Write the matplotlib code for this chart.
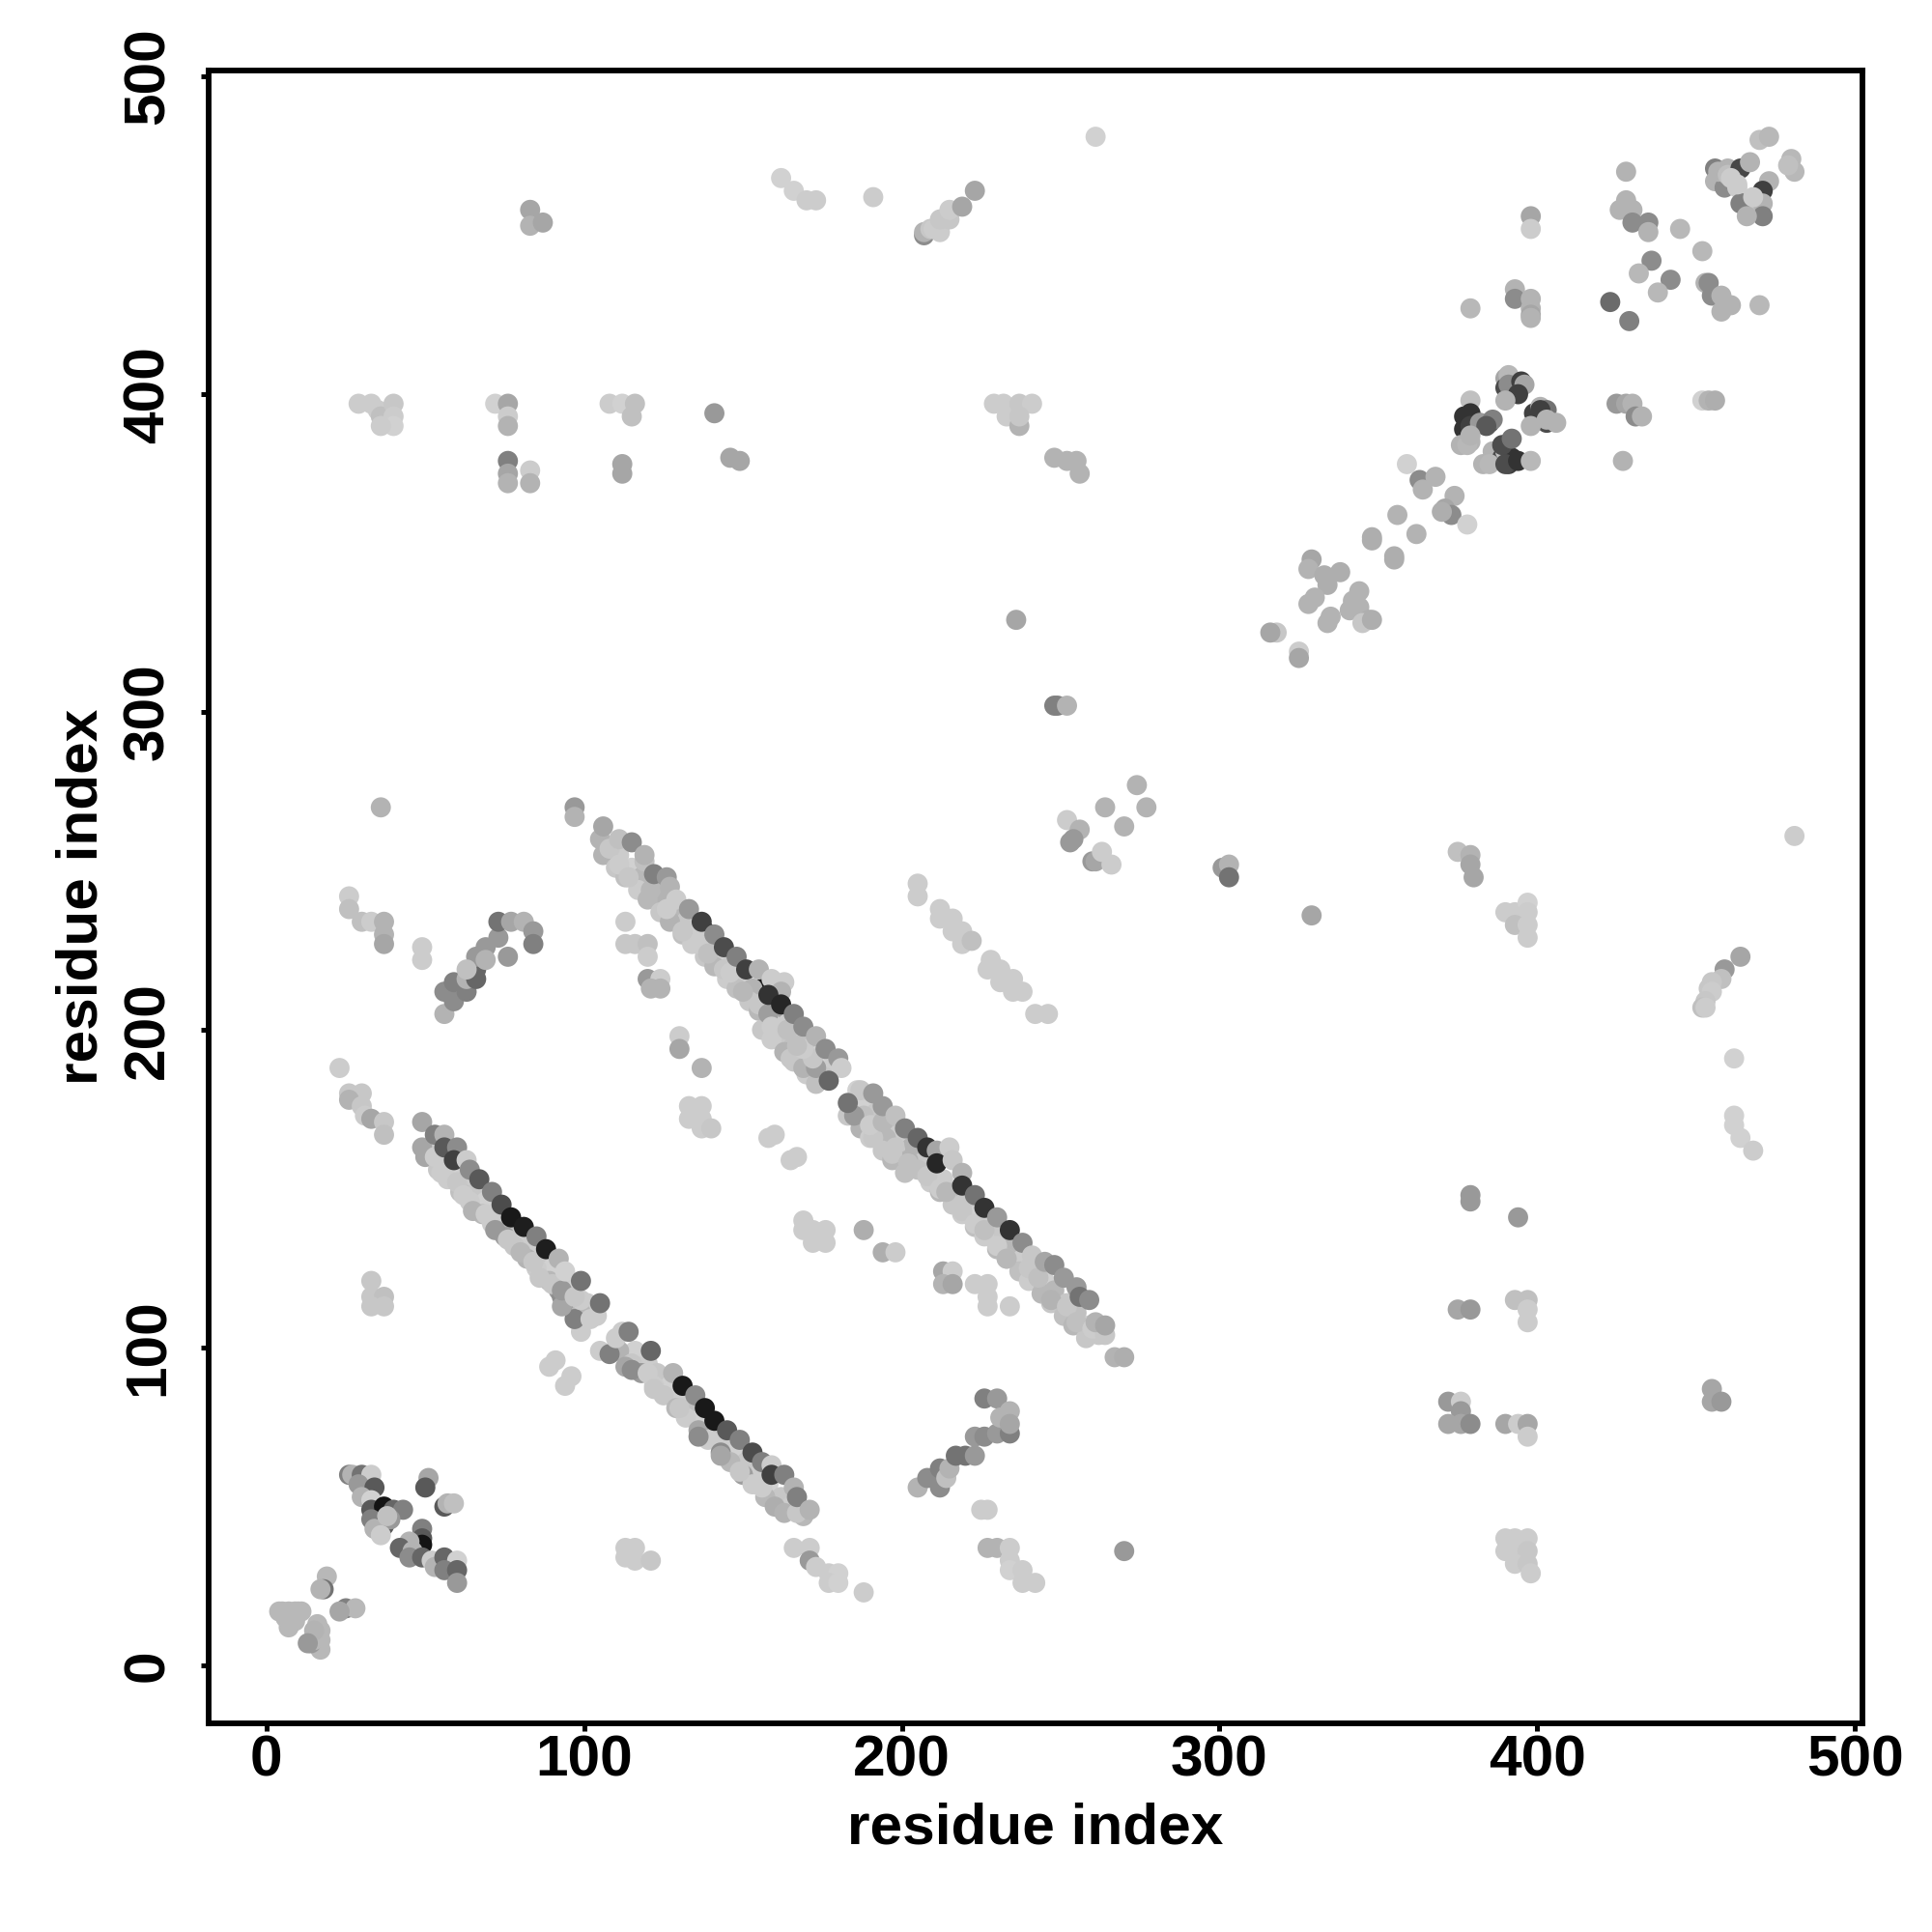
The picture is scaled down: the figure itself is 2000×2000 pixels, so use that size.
import matplotlib
matplotlib.use('Agg')
import matplotlib.pyplot as plt

plt.rcParams['font.family'] = ['Liberation Sans', 'DejaVu Sans']
plt.rcParams['font.weight'] = 'bold'

# ---- dark contacts that only peek out under the lighter ones
dark_x = [54,55,61,89,125,132,147,155,156,209,138]
dark_y = [163,158,156,127,90,83,67,62,213,159,231]
dark_g = [.05,.1,.1,.1,.1,.1,.1,.1,.1,.1,.1]

# ---- first strand pair, inner rows (drawn first, they sit below the edge)
b1a_x = [52,55,59,62,66,69,73,76,80,83,87,90,94,97,101,116,120,123,127,130,134,137,141,144,148,151,155,158,162,165,169]
b1a_y = [163,160,156,153,149,146,142,139,135,132,128,125,121,118,114,99,95,92,88,85,81,78,74,71,67,64,60,57,53,50,47]
b1a_g = [.8,.78,.82,.8,.78,.82,.8,.75,.82,.8,.78,.82,.8,.82,.8,.82,.8,.78,.82,.8,.75,.82,.78,.8,.82,.78,.8,.82,.78,.8,.72]
b1b_x = [50,54,57,61,64,68,71,75,78,82,85,89,92,96,99,111,115,118,122,125,129,132,136,139,143,146,150,153,157,160]
b1b_y = [160,156,153,149,146,142,139,135,132,128,125,121,118,114,111,99,95,92,88,85,81,78,74,71,67,64,60,57,53,50]
b1b_g = [.65,.78,.8,.75,.8,.72,.8,.62,.78,.7,.8,.72,.6,.55,.72,.7,.78,.6,.8,.78,.72,.8,.65,.8,.55,.72,.62,.8,.72,.68]
# extra ones around the gap and along the lower side
b1e_x = [99,97,93,93,102,104,99,105,108,110,112,113,115,120,122,130,136,143,149,156,163,167,49,53,55,60,62,65,69,72,76,80,84,86,90,93,97]
b1e_y = [105,109,116,113,109,110,115,99,98,103,105,94,93,92,87,81,72,66,61,56,48,48,163,160,155,152,148,143,142,137,134,130,127,122,120,118,116]
b1e_g = [.8,.5,.55,.65,.8,.8,.8,.8,.5,.8,.8,.65,.55,.8,.78,.78,.55,.65,.78,.8,.7,.78,.65,.8,.8,.78,.8,.7,.8,.6,.78,.72,.78,.78,.78,.6,.78]
# top edge of the band
b1c_x = [49,53,56,56,60,59,63,64,67,71,74,77,81,85,88,92,94,99,105,114,121,128,131,135,138,141,145,149,153,156,159,159,163,166,167,171]
b1c_y = [171,167,167,163,163,159,159,156,153,149,145,141,138,135,131,128,124,121,114,105,99,92,88,85,81,77,74,71,67,64,63,60,60,56,53,49]
b1c_g = [.65,.5,.7,.35,.55,.25,.8,.55,.35,.5,.3,.1,.12,.5,.12,.7,.82,.45,.45,.5,.4,.7,.1,.55,.1,.1,.35,.5,.3,.5,.8,.25,.5,.7,.5,.7]

# ---- second strand pair, inner rows
b2a_x = [108,111,115,118,122,125,129,132,136,139,143,146,150,153,157,160,164,167,171,174,178,189,192,196,199,203,206,210,213,217,220,224,227,231,234,238,241,245,248,252,255,259,262]
b2a_y = [258,255,251,248,244,241,237,234,230,227,223,220,216,213,209,206,202,199,195,192,188,177,174,170,167,163,160,156,153,149,146,142,139,135,132,128,125,121,118,114,111,107,104]
b2a_g = [.78,.8,.82,.72,.78,.7,.72,.78,.8,.75,.82,.78,.8,.7,.78,.62,.8,.78,.75,.82,.8,.82,.78,.75,.8,.7,.78,.72,.8,.7,.78,.82,.8,.78,.72,.8,.75,.82,.72,.78,.75,.8,.78]
b2b_x = [106,110,113,117,120,124,127,131,134,138,141,145,148,152,155,159,162,166,169,173,176,188,191,195,198,202,205,209,212,216,219,223,226,230,233,237,240,244,247,251,254,258]
b2b_y = [255,251,248,244,241,237,234,230,227,223,220,216,213,209,206,202,199,195,192,188,185,173,170,166,163,159,156,152,149,145,142,138,135,131,128,124,121,117,114,110,107,103]
b2b_g = [.7,.78,.75,.8,.72,.78,.7,.75,.8,.78,.72,.8,.75,.78,.72,.8,.78,.75,.8,.72,.78,.75,.8,.72,.78,.7,.75,.8,.72,.78,.8,.75,.8,.72,.78,.75,.8,.72,.78,.75,.72,.78]
b2c_x = [156,159,163,166,170,173,183,187,190,194,197,201]
b2c_y = [200,197,193,190,186,183,173,169,166,162,159,155]
b2c_g = [.78,.8,.7,.78,.8,.75,.78,.7,.8,.78,.72,.75]
b2e_x = [105,108,111,111,114,119,121,126,131,136,139,144,146,150,155,158,159,164,165,169,173,172,169,167,186,185,191,190,194,197,202,204,208,212,214,219,223,226,230,233,240,243,247,252,255,260,264]
b2e_y = [260,257,260,252,248,253,244,238,231,227,224,219,218,212,208,205,201,200,191,188,188,191,194,195,181,173,166,170,171,161,158,164,154,150,149,143,139,137,132,128,125,122,115,113,108,106,104]
b2e_g = [.7,.78,.75,.8,.78,.75,.72,.8,.78,.8,.75,.78,.8,.72,.78,.62,.8,.75,.78,.7,.62,.78,.8,.75,.82,.6,.78,.8,.72,.78,.75,.7,.78,.8,.72,.78,.8,.75,.8,.72,.78,.75,.7,.78,.75,.8,.78]
# top edge of the band
b2d_x = [106,115,119,122,126,127,129,133,137,141,144,148,151,155,159,163,162,158,162,166,169,173,176,180,181,177,187,191,183,194,198,201,205,208,211,215,211,216,219,219,223,226,230,234,238,241,245,248,251,255,256,259,261,264]
b2d_y = [264,259,255,249,248,245,241,238,234,230,226,223,219,219,216,215,212,211,208,205,201,198,194,191,188,184,181,180,177,176,173,169,166,163,162,163,158,159,155,151,148,144,141,137,133,129,127,126,122,119,116,115,108,107]
b2d_g = [.65,.55,.7,.5,.6,.7,.8,.6,.25,.55,.3,.5,.25,.7,.8,.8,.7,.2,.15,.5,.55,.7,.55,.6,.8,.4,.78,.6,.45,.6,.75,.5,.4,.2,.65,.8,.15,.78,.7,.2,.45,.2,.6,.2,.55,.78,.65,.55,.6,.6,.45,.55,.7,.65]

# ---- small clusters, lower left
low_x = [19,18,17,25,28,23,4,7,10,7,8,17,17,17,14,15,5,6,8,9,11,7,9,6,16,15,13,26,27,30,33,29,34,30,33,33,37,40,43,33,37,39,34,36,38,51,50,56,57,59,49,49,49,43,45,42,46,45,49,52,53,56,60,56,60,60]
low_y = [28,24,24,18,18,17,17,17,17,14,15,11,8,5,7,8,17,16,16,17,17,12,14,15,13,11,7,60,60,60,60,57,56,53,52,49,50,49,49,46,44,46,43,41,47,59,56,50,51,51,43,40,38,37,39,37,36,34,34,33,31,34,33,30,30,26]
low_g = [.72,.45,.7,.5,.72,.65,.72,.72,.72,.6,.72,.72,.72,.72,.6,.72,.72,.72,.72,.72,.72,.72,.72,.72,.72,.7,.6,.5,.7,.45,.8,.6,.35,.7,.82,.35,.08,.4,.5,.5,.35,.6,.7,.8,.75,.65,.35,.35,.7,.75,.5,.35,.08,.45,.7,.4,.7,.55,.4,.8,.7,.4,.82,.5,.4,.6]

# ---- off-band contacts, left half of the picture
left_x = [23,26,30,26,30,31,33,37,37,89,91,94,96,33,33,37,33,37,26,26,30,33,37,37,37,49,49,56,56,59,59,63,63,66,66,66,69,73,73,77,81,84,84,76,69,63,97,97,36]
left_y = [188,180,180,178,176,173,172,171,167,94,96,88,91,121,116,116,113,113,242,238,234,234,234,230,227,226,222,205,212,209,215,212,216,216,219,223,226,229,234,234,234,231,227,223,222,219,270,267,270]
left_g = [.8,.78,.78,.7,.78,.8,.65,.78,.75,.8,.8,.8,.8,.78,.78,.75,.78,.78,.8,.75,.75,.8,.7,.7,.65,.8,.8,.7,.55,.55,.5,.5,.7,.4,.4,.6,.6,.6,.45,.65,.7,.6,.5,.6,.7,.75,.6,.7,.7]

mid_x = [113,113,116,120,120,120,124,121,124,130,130,137,133,137,133,137,137,140,158,160,165,167,169,169,172,176,172,176,188,194,198,213,216,213,216,223,227,227,227,234,267,270]
mid_y = [234,227,227,227,223,216,216,213,213,198,194,188,176,176,172,172,169,169,166,167,159,160,140,137,137,137,133,133,137,130,130,124,124,120,120,120,120,116,113,113,97,97]
mid_g = [.8,.78,.78,.75,.8,.6,.8,.7,.7,.8,.65,.7,.8,.8,.8,.8,.8,.78,.8,.8,.8,.8,.8,.8,.8,.8,.8,.8,.68,.68,.8,.65,.8,.7,.65,.8,.8,.8,.8,.8,.7,.68]

strand_x = [205,205,212,212,216,216,219,219,222,228,227,231,231,235,235,238,242,246]
strand_y = [246,242,238,235,235,231,231,227,228,222,219,219,215,216,212,212,205,205]
strand_g = [.8,.8,.8,.8,.8,.8,.8,.8,.75,.8,.8,.8,.8,.8,.8,.8,.8,.8]

arc_x = [205,208,212,212,214,215,217,220,223,223,226,230,234,226,230,234,231,234]
arc_y = [56,59,56,62,59,62,66,66,66,72,72,73,73,84,84,80,78,76]
arc_g = [.7,.55,.55,.5,.75,.7,.45,.45,.6,.6,.55,.6,.5,.5,.6,.7,.7,.65]

bot_x = [270,166,171,171,173,177,180,177,180,188,113,116,113,116,121,225,227,227,230,234,234,234,238,238,242]
bot_y = [36,37,37,33,31,29,29,26,26,23,37,37,34,33,33,49,49,37,37,37,33,30,30,26,26]
bot_g = [.6,.8,.8,.6,.8,.8,.82,.8,.82,.8,.8,.8,.8,.8,.78,.8,.8,.7,.7,.8,.8,.82,.8,.8,.8]

# ---- top row of the picture
top_x = [261,162,166,170,173,191,207,207,209,210,212,212,215,215,219,223,83,83,87]
top_y = [481,468,464,461,461,462,450,451,452,452,451,455,455,458,459,464,458,453,454]
top_g = [.82,.82,.82,.8,.8,.8,.55,.7,.78,.8,.8,.78,.78,.8,.65,.65,.65,.7,.65]

row400_x = [29,33,35,36,40,40,40,36,72,76,76,76,76,76,76,83,83,108,112,116,115,112,112,141,146,149,229,232,233,237,241,237,237,248,252,255,256]
row400_y = [397,397,395,393,397,393,390,390,397,397,393,390,379,375,372,376,372,397,397,397,393,378,375,394,380,379,397,397,393,397,397,390,393,380,379,379,375]
row400_g = [.8,.8,.8,.75,.78,.8,.82,.8,.82,.65,.8,.7,.5,.65,.7,.8,.7,.8,.82,.75,.75,.65,.65,.6,.65,.65,.8,.8,.8,.78,.8,.7,.78,.7,.7,.7,.7]

# ---- mid and right, below the diagonal
right_x = [236,248,249,252,274,264,277,270,252,256,254,253,260,261,263,266,301,303,303,329,481,375,379,379,380,390,393,397,397,393,397,397,464,459,458,455,454,455,453,452,453,462,462,462,464,468]
right_y = [329,302,302,302,277,270,270,264,266,263,260,259,253,253,256,252,251,252,248,236,261,256,255,252,248,237,237,240,237,233,233,229,223,219,216,215,213,212,209,207,207,191,173,170,166,162]
right_g = [.65,.5,.5,.7,.7,.7,.7,.7,.8,.7,.6,.6,.6,.65,.8,.8,.6,.7,.45,.65,.8,.75,.7,.65,.65,.8,.8,.82,.8,.75,.8,.8,.65,.6,.75,.78,.78,.8,.78,.75,.8,.82,.82,.82,.82,.8]

right_low_x = [379,379,394,375,379,393,397,397,397,372,376,376,372,376,379,390,394,397,397,455,455,458,390,393,397,390,393,397,393,397,398]
right_low_y = [148,146,141,112,112,115,115,112,108,83,83,80,76,76,76,76,76,76,72,87,83,83,40,40,40,36,36,36,32,32,29]
right_low_g = [.6,.6,.6,.65,.6,.75,.75,.8,.8,.6,.8,.6,.65,.65,.55,.65,.8,.65,.8,.65,.65,.6,.8,.8,.8,.8,.8,.78,.8,.78,.8]

# ---- along the diagonal, upper right
diag_x = [318,316,325,325,329,328,333,338,334,330,328,344,342,344,341,335,334,347,345,348,348,348,355,355,356,362,359,363,364,368,374,371,373,370,378]
diag_y = [325,325,319,317,348,345,343,344,340,336,334,338,335,333,332,330,328,329,328,329,354,355,348,349,362,356,378,373,370,374,368,364,362,363,359]
diag_g = [.78,.65,.8,.65,.65,.7,.68,.68,.68,.7,.7,.7,.7,.7,.7,.7,.7,.68,.78,.68,.68,.68,.68,.68,.7,.7,.82,.55,.7,.7,.7,.65,.55,.68,.82]

knot2_x = [377,377,380,385,379,376,383,386,389,391,390,392,390,393,390,399,403,401]
knot2_y = [393,389,392,391,385,384,378,382,380,378,382,380,405,401,402,394,391,396]
knot2_g = [.2,.2,.7,.3,.7,.7,.7,.7,.3,.25,.75,.2,.65,.2,.3,.25,.3,.7]
knot_x = [391,391,395,396,394,390,379,379,379,382,386,384,378,379,385,389,392,390,394,398,403,406,401,398,403,398,393,393,398,398,398,379,398,398]
knot_y = [406,403,404,403,400,398,398,394,390,391,392,390,384,387,378,384,386,378,379,379,395,391,395,390,392,456,433,430,430,427,425,427,452,424]
knot_g = [.72,.55,.25,.65,.25,.7,.75,.2,.25,.6,.5,.35,.72,.7,.72,.3,.45,.3,.2,.72,.45,.7,.25,.7,.7,.65,.7,.55,.7,.7,.65,.72,.8,.7]

corner_x = [470,473,480,481,479,456,456,460,459,457,460,463,464,467,461,473,471,465,466,464,471,471,466,468,463,428,428,426,430,430,435,435,445,452,436,432,442,438,453,454,455,458,461,458,470,423,429,425,428,430,431,433,427,452,454,456]
corner_y = [480,481,474,470,472,471,467,471,465,470,469,465,471,473,468,467,464,460,460,460,460,456,456,462,466,470,461,458,458,454,454,451,452,445,442,438,436,432,435,435,431,431,428,426,428,429,423,397,397,397,393,393,379,398,398,398]
corner_g = [.75,.72,.72,.72,.75,.5,.7,.7,.55,.7,.75,.8,.28,.7,.8,.7,.25,.5,.78,.5,.7,.5,.7,.8,.8,.7,.7,.7,.7,.55,.55,.7,.72,.72,.55,.72,.55,.72,.7,.55,.55,.7,.7,.7,.72,.42,.5,.6,.65,.7,.55,.7,.7,.82,.7,.68]

groups = [
    (dark_x, dark_y, dark_g),
    (b1a_x, b1a_y, b1a_g), (b1b_x, b1b_y, b1b_g), (b1e_x, b1e_y, b1e_g), (b1c_x, b1c_y, b1c_g),
    (b2a_x, b2a_y, b2a_g), (b2b_x, b2b_y, b2b_g), (b2c_x, b2c_y, b2c_g), (b2e_x, b2e_y, b2e_g), (b2d_x, b2d_y, b2d_g),
    (low_x, low_y, low_g), (left_x, left_y, left_g), (mid_x, mid_y, mid_g),
    (strand_x, strand_y, strand_g), (arc_x, arc_y, arc_g), (bot_x, bot_y, bot_g),
    (top_x, top_y, top_g), (row400_x, row400_y, row400_g),
    (right_x, right_y, right_g), (right_low_x, right_low_y, right_low_g),
    (diag_x, diag_y, diag_g), (knot2_x, knot2_y, knot2_g), (knot_x, knot_y, knot_g), (corner_x, corner_y, corner_g),
]

tick_vals = [0, 100, 200, 300, 400, 500]

fig = plt.figure(figsize=(20, 20), dpi=100)
ax = fig.add_axes([0.108, 0.108, 0.856, 0.8556])

for gx, gy, gg in groups:
    ax.scatter(gx, gy, c=gg, cmap='gray', vmin=0, vmax=1, s=225, linewidths=0, zorder=2)

ax.set_xlim(-18.2, 502.4)
ax.set_ylim(-18.2, 501.9)
ax.set_xticks(tick_vals)
ax.set_yticks(tick_vals)
ax.tick_params(length=6, width=3.6, labelsize=43.5)
ax.tick_params(axis='x', pad=2)
ax.tick_params(axis='y', pad=19)
for lab in ax.get_yticklabels():
    lab.set_rotation(90)
    lab.set_va('center')
for lab in ax.get_xticklabels() + ax.get_yticklabels():
    lab.set_fontweight('bold')
for s in ax.spines.values():
    s.set_linewidth(4.2)

ax.set_xlabel('residue index', fontsize=43.5, fontweight='bold', labelpad=11)
ax.set_ylabel('residue index', fontsize=43.5, fontweight='bold', labelpad=10)

fig.savefig('out.png', dpi=100)
